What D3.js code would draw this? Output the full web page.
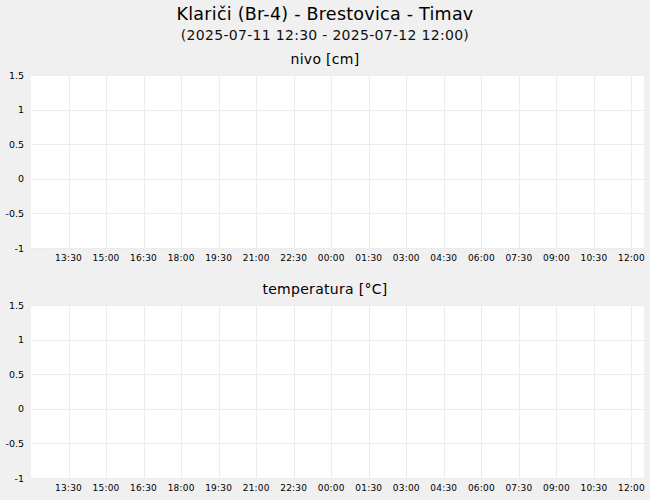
<!DOCTYPE html>
<html lang="sl">
<head>
<meta charset="utf-8">
<title>Klariči (Br-4) - Brestovica - Timav</title>
<script src="https://cdn.jsdelivr.net/npm/d3@7"></script>
<style>
  body { margin: 0; background: #f0f0f0; }
  svg { display: block; font-family: "DejaVu Sans", sans-serif; }
  .grid line { stroke: #ececec; stroke-width: 1; shape-rendering: crispEdges; }
  .ylab { font-size: 9.5px; fill: #000; text-anchor: end; dominant-baseline: central; }
  .xlab { font-size: 9px; fill: #000; text-anchor: middle; dominant-baseline: central; letter-spacing: 0.2px; }
</style>
</head>
<body>
<script>
var w = 650, h = 500;

// chart texts
var title = "Klariči (Br-4) - Brestovica - Timav";
var subtitle = "(2025-07-11 12:30 - 2025-07-12 12:00)";
var panelTitles = ["nivo [cm]", "temperatura [°C]"];

// time axis
var timeStart = "2025-07-11 12:00";
var timeEnd = "2025-07-12 12:30";
var xTickTimes = ["2025-07-11 13:30", "2025-07-11 15:00", "2025-07-11 16:30", "2025-07-11 18:00",
                  "2025-07-11 19:30", "2025-07-11 21:00", "2025-07-11 22:30", "2025-07-12 00:00",
                  "2025-07-12 01:30", "2025-07-12 03:00", "2025-07-12 04:30", "2025-07-12 06:00",
                  "2025-07-12 07:30", "2025-07-12 09:00", "2025-07-12 10:30", "2025-07-12 12:00"];

// value axis (no data in either series)
var yTicks = [1.5, 1, 0.5, 0, -0.5, -1];
var yTickLabels = ["1.5", "1", "0.5", "0", "-0.5", "-1"];
var nivoValues = [];
var temperaturaValues = [];

var parse = d3.timeParse("%Y-%m-%d %H:%M");
var fmt = d3.timeFormat("%H:%M");

var svg = d3.select("body").append("svg")
  .attr("width", w)
  .attr("height", h);

svg.append("rect").attr("width", w).attr("height", h).attr("fill", "#f0f0f0");

svg.append("text")
  .attr("x", w / 2).attr("y", 20)
  .attr("text-anchor", "middle")
  .attr("font-size", "17.5px")
  .attr("letter-spacing", "0.25px")
  .text(title);

svg.append("text")
  .attr("x", w / 2).attr("y", 40)
  .attr("text-anchor", "middle")
  .attr("font-size", "14px")
  .attr("letter-spacing", "0.3px")
  .attr("fill", "#111")
  .text(subtitle);

var x = d3.scaleTime()
  .domain([parse(timeStart), parse(timeEnd)])
  .range([31, 644]);

var panels = [
  { top: 75, title: panelTitles[0], values: nivoValues },
  { top: 305, title: panelTitles[1], values: temperaturaValues }
];
var ph = 173;

panels.forEach(function(p) {
  var y = d3.scaleLinear()
    .domain([-1, 1.5])
    .range([p.top + ph, p.top]);

  svg.append("text")
    .attr("x", w / 2).attr("y", p.top - 11)
    .attr("text-anchor", "middle")
    .attr("font-size", "14px")
    .attr("letter-spacing", "0.3px")
    .text(p.title);

  svg.append("rect")
    .attr("x", x.range()[0]).attr("y", p.top)
    .attr("width", x.range()[1] - x.range()[0])
    .attr("height", ph)
    .attr("fill", "#fff");

  var g = svg.append("g").attr("class", "grid");

  g.selectAll("line.v")
    .data(xTickTimes.map(parse))
    .enter().append("line")
    .attr("class", "v")
    .attr("x1", function(d) { return Math.round(x(d)) + 0.5; })
    .attr("x2", function(d) { return Math.round(x(d)) + 0.5; })
    .attr("y1", p.top)
    .attr("y2", p.top + ph);

  g.selectAll("line.h")
    .data(yTicks)
    .enter().append("line")
    .attr("class", "h")
    .attr("x1", x.range()[0])
    .attr("x2", x.range()[1])
    .attr("y1", function(d) { return Math.round(y(d)) + 0.5; })
    .attr("y2", function(d) { return Math.round(y(d)) + 0.5; });

  svg.selectAll(null)
    .data(yTicks)
    .enter().append("text")
    .attr("class", "ylab")
    .attr("x", 24)
    .attr("y", function(d) { return y(d); })
    .text(function(d, i) { return yTickLabels[i]; });

  svg.selectAll(null)
    .data(xTickTimes.map(parse))
    .enter().append("text")
    .attr("class", "xlab")
    .attr("x", function(d) { return x(d); })
    .attr("y", p.top + ph + 10)
    .text(function(d) { return fmt(d); });

  // series line (empty, no measurements in this period)
  var line = d3.line()
    .x(function(d) { return x(parse(d[0])); })
    .y(function(d) { return y(d[1]); });
  svg.append("path")
    .datum(p.values)
    .attr("fill", "none")
    .attr("stroke", "#1f5fbf")
    .attr("d", line);
});
</script>
</body>
</html>
